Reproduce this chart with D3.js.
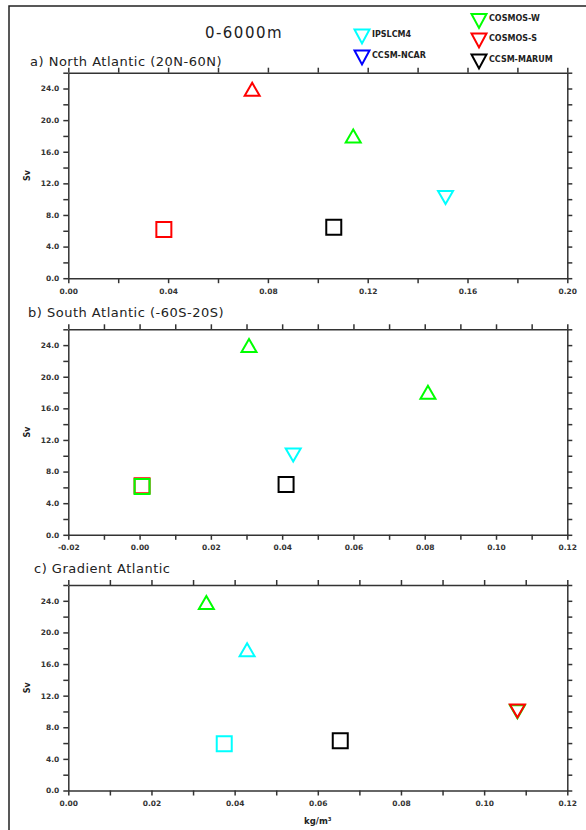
<!DOCTYPE html>
<html>
<head>
<meta charset="utf-8">
<script src="https://cdn.jsdelivr.net/npm/d3@7"></script>
<style>
body { margin: 0; background: #fff; }
svg { display: block; }
.axis path, .axis line { stroke: #333; stroke-width: 1.5; }
.axis text { font-family: "DejaVu Sans"; font-size: 7.5px; font-weight: bold; fill: #333; }
.label { font-family: "DejaVu Sans"; fill: #222; }
</style>
</head>
<body>
<div id="chart-area"></div>
<script>
// models and their colours
var models = ["IPSLCM4", "CCSM-NCAR", "COSMOS-W", "COSMOS-S", "CCSM-MARUM"];
var modelColors = ["#00ffff", "#0000ff", "#00ff00", "#ff0000", "#000000"];

// y axis (Sv)
var yTicks = [0, 2, 4, 6, 8, 10, 12, 14, 16, 18, 20, 22, 24, 26];

// a) North Atlantic
var northXTicks = [0, 0.02, 0.04, 0.06, 0.08, 0.10, 0.12, 0.14, 0.16, 0.18, 0.20];
var northModel = ["COSMOS-S", "COSMOS-W", "IPSLCM4", "COSMOS-S", "CCSM-MARUM"];
var northShape = ["up", "up", "down", "square", "square"];
var northX = [0.0737, 0.1142, 0.1512, 0.0383, 0.1064];
var northY = [23.9, 18.0, 10.2, 6.15, 6.45];

// b) South Atlantic
var southXTicks = [-0.02, -0.01, 0, 0.01, 0.02, 0.03, 0.04, 0.05, 0.06, 0.07, 0.08, 0.09, 0.10, 0.11, 0.12];
var southModel = ["COSMOS-S", "COSMOS-W", "COSMOS-W", "COSMOS-W", "IPSLCM4", "CCSM-MARUM"];
var southShape = ["square", "square", "up", "up", "down", "square"];
var southX = [0.0007, 0.0007, 0.0307, 0.0809, 0.0431, 0.0411];
var southY = [6.22, 6.1, 23.95, 18.05, 10.1, 6.35];

// c) Gradient Atlantic
var gradXTicks = [0, 0.01, 0.02, 0.03, 0.04, 0.05, 0.06, 0.07, 0.08, 0.09, 0.10, 0.11, 0.12];
var gradModel = ["COSMOS-W", "IPSLCM4", "IPSLCM4", "CCSM-MARUM", "COSMOS-W", "COSMOS-S"];
var gradShape = ["up", "up", "square", "square", "down", "down"];
var gradX = [0.0332, 0.0430, 0.0375, 0.0654, 0.108, 0.108];
var gradY = [23.8, 17.8, 5.92, 6.3, 9.95, 10.05];

var W = 586, H = 830;
var left = 68.3, plotW = 499, plotH = 205.5;

var color = d3.scaleOrdinal().domain(models).range(modelColors);

var shapes = {
    up: "M0,-6.5L7.5,6.5L-7.5,6.5Z",
    down: "M-7.5,-6.5L7.5,-6.5L0,6.5Z",
    square: "M-7.5,-7.5H7.5V7.5H-7.5Z"
};

var svg = d3.select("#chart-area")
    .append("svg")
    .attr("width", W)
    .attr("height", H);

// outer frame
svg.append("path")
    .attr("d", "M9," + H + "V6H" + W)
    .attr("fill", "none")
    .attr("stroke", "#222")
    .attr("stroke-width", 1.5);

var fmt = d3.format(".2f");

function rows(m, s, xs, ys) {
    return m.map((d, i) => ({ model: d, shape: s[i], x: xs[i], y: ys[i] }));
}

var panels = [
    { top: 72.7, label: "a) North Atlantic (20N-60N)", lx: 30, ly: 66, ticks: northXTicks,
      data: rows(northModel, northShape, northX, northY) },
    { top: 329.3, label: "b) South Atlantic (-60S-20S)", lx: 28, ly: 317, ticks: southXTicks,
      data: rows(southModel, southShape, southX, southY) },
    { top: 585, label: "c) Gradient Atlantic", lx: 34, ly: 573, ticks: gradXTicks,
      data: rows(gradModel, gradShape, gradX, gradY) }
];

panels.forEach(function(p, k) {
    var g = svg.append("g")
        .attr("transform", "translate(" + left + ", " + p.top + ")");

    var x = d3.scaleLinear()
        .domain([p.ticks[0], p.ticks[p.ticks.length - 1]])
        .range([0, plotW]);

    var y = d3.scaleLinear()
        .domain([0, 26])
        .range([plotH, 0]);

    var xLab = (d, i) => i % 2 === 0 ? fmt(d).replace("\u2212", "-") : "";
    var yLab = (d, i) => i % 2 === 0 && d < 26 ? d3.format(".1f")(d) : "";

    g.append("g")
        .attr("class", "axis")
        .attr("transform", "translate(0, " + plotH + ")")
        .call(d3.axisBottom(x).tickValues(p.ticks).tickSize(5).tickSizeOuter(0).tickPadding(5).tickFormat(xLab));

    g.append("g")
        .attr("class", "axis")
        .call(d3.axisTop(x).tickValues(p.ticks).tickSize(5).tickSizeOuter(0).tickFormat(""));

    g.append("g")
        .attr("class", "axis")
        .call(d3.axisLeft(y).tickValues(yTicks).tickSize(5).tickSizeOuter(0).tickPadding(4).tickFormat(yLab));

    g.append("g")
        .attr("class", "axis")
        .attr("transform", "translate(" + plotW + ", 0)")
        .call(d3.axisRight(y).tickValues(yTicks).tickSize(5).tickSizeOuter(0).tickFormat(""));

    g.selectAll("path.mark")
        .data(p.data)
        .enter()
        .append("path")
        .attr("class", "mark")
        .attr("transform", d => "translate(" + x(d.x) + ", " + y(d.y) + ")")
        .attr("d", d => shapes[d.shape])
        .attr("fill", "none")
        .attr("stroke", d => color(d.model))
        .attr("stroke-width", 2);

    g.append("text")
        .attr("class", "label")
        .attr("x", -(plotH / 2))
        .attr("y", -38)
        .attr("text-anchor", "middle")
        .attr("transform", "rotate(-90)")
        .style("font-size", "8px")
        .style("font-weight", "bold")
        .text("Sv");

    svg.append("text")
        .attr("class", "label")
        .attr("x", p.lx)
        .attr("y", p.ly)
        .style("font-size", "13px")
        .style("letter-spacing", "0.5px")
        .text(p.label);

    if (k === 2) {
        svg.append("text")
            .attr("class", "label")
            .attr("x", left + plotW / 2)
            .attr("y", p.top + plotH + 33)
            .attr("text-anchor", "middle")
            .style("font-size", "8.5px")
            .style("font-weight", "bold")
            .text("kg/m\u00b3");
    }
});

// title
svg.append("text")
    .attr("class", "label")
    .attr("x", 244)
    .attr("y", 38)
    .attr("text-anchor", "middle")
    .style("font-size", "15px")
    .style("letter-spacing", "1.5px")
    .text("0-6000m");

// legend: two columns of down triangles
var legendCols = [[0, 1], [2, 3, 4]];
var colX = [362, 479];
var colY = [[36.5, 57.5], [21, 40.5, 61.5]];

legendCols.forEach(function(col, c) {
    col.forEach(function(mi, r) {
        var lg = svg.append("g")
            .attr("transform", "translate(" + colX[c] + ", " + colY[c][r] + ")");
        lg.append("path")
            .attr("d", "M-7.5,-7L7.5,-7L0,7Z")
            .attr("fill", "none")
            .attr("stroke", modelColors[mi])
            .attr("stroke-width", 2);
        lg.append("text")
            .attr("class", "label")
            .attr("x", 10)
            .attr("y", 0)
            .style("font-size", "8px")
            .style("font-weight", "bold")
            .text(models[mi]);
    });
});
</script>
</body>
</html>
